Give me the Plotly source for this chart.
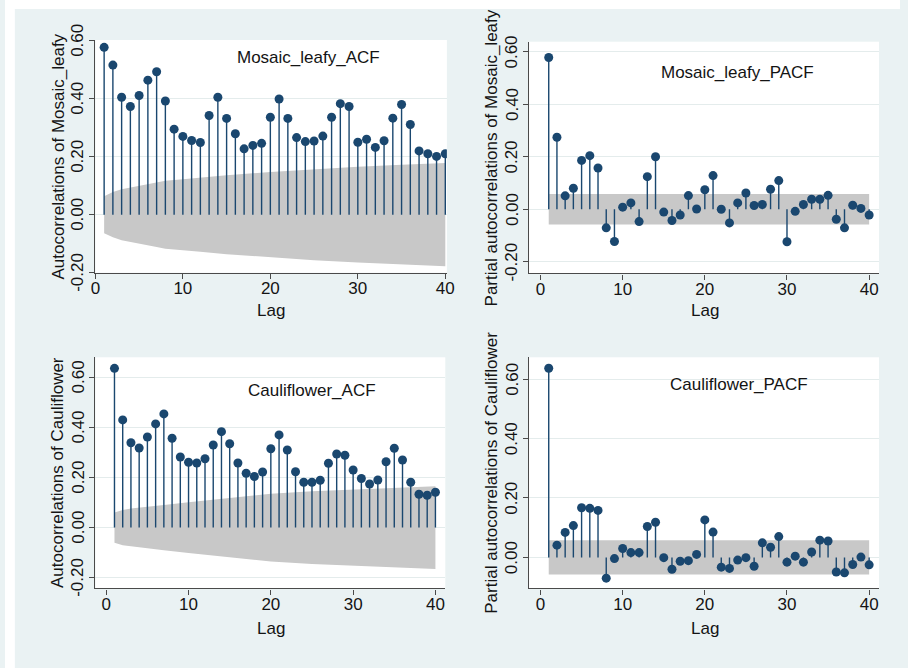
import plotly.graph_objects as go

# ---------------- data ----------------
lags = list(range(1, 41))

acf_mosaic = [0.577, 0.516, 0.405, 0.373, 0.411, 0.464, 0.493, 0.392, 0.295, 0.270,
              0.256, 0.249, 0.342, 0.405, 0.332, 0.279, 0.227, 0.239, 0.246, 0.336,
              0.399, 0.332, 0.266, 0.252, 0.254, 0.271, 0.336, 0.383, 0.373, 0.250,
              0.260, 0.232, 0.255, 0.333, 0.380, 0.311, 0.220, 0.210, 0.201, 0.210]

pacf_mosaic = [0.578, 0.274, 0.051, 0.080, 0.186, 0.204, 0.157, -0.071, -0.123, 0.008,
               0.024, -0.047, 0.124, 0.200, -0.011, -0.043, -0.022, 0.052, 0.001, 0.074,
               0.128, 0.000, -0.052, 0.024, 0.062, 0.014, 0.018, 0.076, 0.109, -0.124,
               -0.008, 0.018, 0.038, 0.038, 0.053, -0.038, -0.071, 0.015, 0.003, -0.022]

acf_cauli = [0.636, 0.430, 0.339, 0.318, 0.362, 0.414, 0.454, 0.357, 0.282, 0.261,
             0.258, 0.275, 0.330, 0.383, 0.335, 0.258, 0.217, 0.204, 0.222, 0.315,
             0.370, 0.310, 0.223, 0.181, 0.181, 0.189, 0.257, 0.294, 0.289, 0.230,
             0.196, 0.174, 0.190, 0.263, 0.317, 0.270, 0.181, 0.133, 0.129, 0.141]

pacf_cauli = [0.636, 0.041, 0.084, 0.107, 0.167, 0.165, 0.158, -0.070, -0.004, 0.030,
              0.016, 0.016, 0.104, 0.118, -0.001, -0.040, -0.013, -0.011, 0.010, 0.126,
              0.085, -0.033, -0.037, -0.009, -0.001, -0.030, 0.049, 0.034, 0.070, -0.016,
              0.004, -0.016, 0.018, 0.058, 0.055, -0.049, -0.052, -0.024, 0.001, -0.025]

# 95% confidence bands (half-widths)
acf_band_lags_mosaic = [1, 2, 3, 4, 5, 6, 7, 8, 10, 12, 15, 20, 25, 30, 35, 40]
acf_band_mosaic = [0.064, 0.078, 0.088, 0.094, 0.099, 0.105, 0.111, 0.117, 0.122, 0.128,
                   0.136, 0.147, 0.157, 0.165, 0.172, 0.178]
acf_band_lags_cauli = [1, 2, 3, 4, 5, 7, 10, 15, 20, 25, 30, 35, 40]
acf_band_cauli = [0.060, 0.070, 0.076, 0.079, 0.082, 0.090, 0.101, 0.119, 0.135, 0.145,
                  0.152, 0.159, 0.165]
pacf_band_mosaic = 0.058
pacf_band_cauli = 0.058

x_ticks = [0, 10, 20, 30, 40]
y_ticks_full = [-0.2, 0.0, 0.2, 0.4, 0.6]
y_ticks_short = [0.0, 0.2, 0.4, 0.6]

# ---------------- styling ----------------
W, H = 908, 668
NAVY = "#1a476f"
BAND = "#c8c8c8"
BG = "#eaf2f3"
GRID = "#e4ecec"
AXIS = "#4a4a4a"
TXT = "#141414"
FONT = "Liberation Sans, Arial, sans-serif"
FS = 17


def px_x(p):
    return p / W


def px_y(p):
    return 1 - p / H


# panel frames in pixels: left, right, top, bottom; axis ranges
panels = [
    dict(l=91.7, r=448.3, t=40.0, b=272.7, xr=[0, 40.18], yr=[-0.2, 0.6024],
         yt=y_ticks_full, title="Mosaic_leafy_ACF", tpos=(308, 58),
         ytitle="Autocorrelations of Mosaic_leafy", lagy=311, ytx=54, lagx=270),
    dict(l=531.7, r=886.7, t=41.7, b=273.3, xr=[-1.39, 41.2], yr=[-0.244, 0.638],
         yt=y_ticks_full, title="Mosaic_leafy_PACF", tpos=(743, 73),
         ytitle="Partial autocorrelations of Mosaic_leafy", lagy=311, ytx=494, lagx=710),
    dict(l=91.7, r=446.7, t=357.3, b=588.3, xr=[-1.32, 41.2], yr=[-0.2423, 0.68],
         yt=y_ticks_full, title="Cauliflower_ACF", tpos=(311, 390),
         ytitle="Autocorrelations of Cauliflower", lagy=628, ytx=54, lagx=270),
    dict(l=531.7, r=886.7, t=357.3, b=588.3, xr=[-1.39, 41.2], yr=[-0.104, 0.673],
         yt=y_ticks_short, title="Cauliflower_PACF", tpos=(745, 384),
         ytitle="Partial autocorrelations of Cauliflower", lagy=628, ytx=494, lagx=710),
]

series = [
    ("acf", acf_mosaic, (acf_band_lags_mosaic, acf_band_mosaic)),
    ("pacf", pacf_mosaic, pacf_band_mosaic),
    ("acf", acf_cauli, (acf_band_lags_cauli, acf_band_cauli)),
    ("pacf", pacf_cauli, pacf_band_cauli),
]

fig = go.Figure()
annotations = []
layout = {}
txt_font = dict(family=FONT, size=FS, color=TXT)

for i, (p, (kind, vals, band)) in enumerate(zip(panels, series), start=1):
    xa = "x" if i == 1 else f"x{i}"
    ya = "y" if i == 1 else f"y{i}"

    # confidence band
    if kind == "acf":
        bl, bv = band
        bx = list(bl) + list(reversed(bl))
        by = list(bv) + [-v for v in reversed(bv)]
    else:
        bx = [lags[0], lags[-1], lags[-1], lags[0]]
        by = [band, band, -band, -band]
    fig.add_trace(go.Scatter(x=bx, y=by, fill="toself", fillcolor=BAND,
                             line=dict(width=0), mode="lines", hoverinfo="skip",
                             showlegend=False, xaxis=xa, yaxis=ya))

    # stems
    sx, sy = [], []
    for lag, v in zip(lags, vals):
        sx += [lag, lag, None]
        sy += [0, v, None]
    fig.add_trace(go.Scatter(x=sx, y=sy, mode="lines",
                             line=dict(color=NAVY, width=1.4),
                             showlegend=False, xaxis=xa, yaxis=ya))

    # markers
    fig.add_trace(go.Scatter(x=lags, y=vals, mode="markers",
                             marker=dict(color=NAVY, size=9),
                             showlegend=False, xaxis=xa, yaxis=ya))

    xkey = "xaxis" if i == 1 else f"xaxis{i}"
    ykey = "yaxis" if i == 1 else f"yaxis{i}"
    layout[xkey] = dict(
        domain=[px_x(p["l"]), px_x(p["r"])], range=p["xr"], anchor=ya,
        tickvals=x_ticks, ticktext=[str(t) for t in x_ticks],
        ticks="outside", ticklen=5, tickcolor=AXIS, tickwidth=1.2,
        ticklabelstandoff=-5,
        showline=True, linecolor=AXIS, linewidth=1.4, showgrid=False,
        zeroline=False, tickfont=txt_font,
    )
    layout[ykey] = dict(
        domain=[px_y(p["b"]), px_y(p["t"])], range=p["yr"], anchor=xa,
        tickvals=p["yt"], showticklabels=False,
        ticks="outside", ticklen=5, tickcolor=AXIS, tickwidth=1.2,
        showline=True, linecolor=AXIS, linewidth=1.4,
        showgrid=True, gridcolor=GRID, gridwidth=1, zeroline=False,
    )

    # rotated y tick labels, centred on their ticks
    for t in p["yt"]:
        annotations.append(dict(text=f"{t:.2f}", x=px_x(p["l"] - 17.5), y=t,
                                xref="paper", yref=ya, showarrow=False, textangle=-90,
                                xanchor="center", yanchor="middle", font=txt_font))

    # panel title
    annotations.append(dict(text=p["title"], x=px_x(p["tpos"][0]), y=px_y(p["tpos"][1]),
                            xref="paper", yref="paper", showarrow=False,
                            xanchor="center", yanchor="middle", font=txt_font))
    # y-axis title
    annotations.append(dict(text=p["ytitle"], x=px_x(p["ytx"]),
                            y=px_y((p["t"] + p["b"]) / 2),
                            xref="paper", yref="paper", showarrow=False, textangle=-90,
                            xanchor="center", yanchor="middle", font=txt_font))
    # x-axis title
    annotations.append(dict(text="Lag", x=px_x(p["lagx"]), y=px_y(p["lagy"]),
                            xref="paper", yref="paper", showarrow=False,
                            xanchor="center", yanchor="middle", font=txt_font))

# white outer border strips along the top and left edges
shapes = [
    dict(type="rect", xref="paper", yref="paper", x0=0, x1=1, y0=px_y(9), y1=1,
         fillcolor="white", line=dict(width=0), layer="below"),
    dict(type="rect", xref="paper", yref="paper", x0=0, x1=px_x(10), y0=0, y1=1,
         fillcolor="white", line=dict(width=0), layer="below"),
]

fig.update_layout(
    width=W, height=H, margin=dict(l=0, r=0, t=0, b=0),
    paper_bgcolor=BG, plot_bgcolor="white",
    showlegend=False, annotations=annotations, shapes=shapes,
    font=txt_font,
    **layout,
)

fig.write_html("out.html")
